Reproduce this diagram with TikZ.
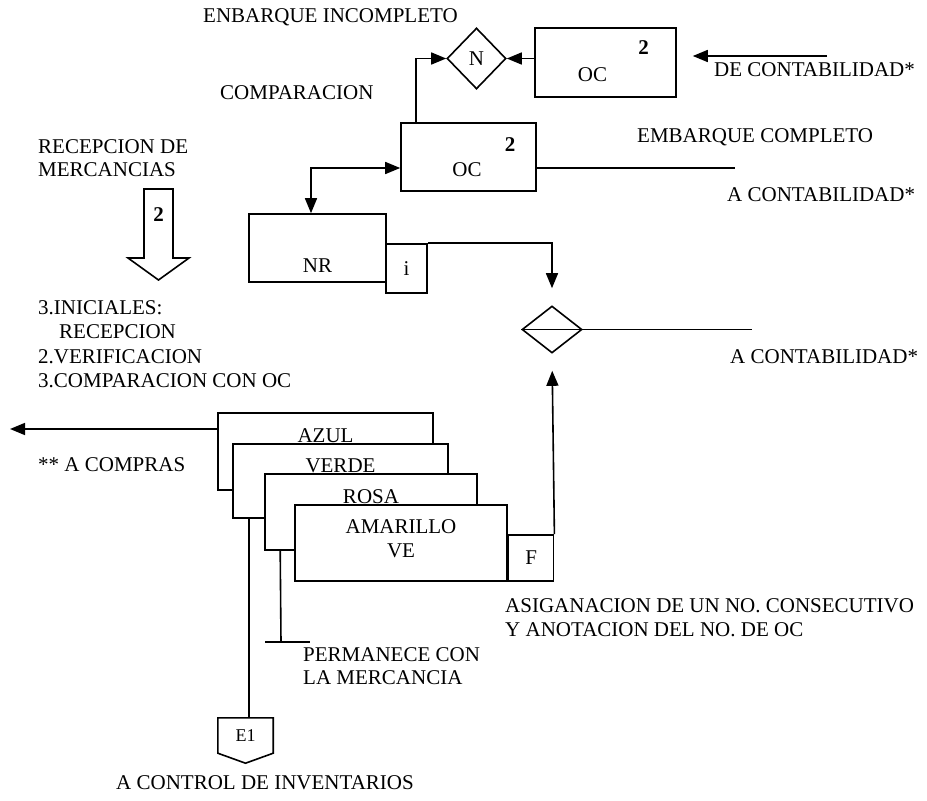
\documentclass[tikz,border=0pt]{standalone}
\usepackage{fontspec}
\setmainfont{Liberation Serif}
\usetikzlibrary{positioning}
\usetikzlibrary{shapes.geometric}
\usetikzlibrary{arrows.meta}

\begin{document}
\begin{tikzpicture}[
        x=1pt, y=-1pt,
        every node/.style={font=\fontsize{21}{24.5}\selectfont},
        box/.style={rectangle, draw=black, line width=1.6pt, fill=white, inner sep=0pt},
        rombo/.style={diamond, draw=black, line width=1.6pt, inner sep=0pt},
        txt/.style={anchor=west, inner sep=0pt, align=left},
        line/.style={line width=1.6pt},
        arrow/.style={-{Triangle[length=15pt,width=12pt]}, line width=1.6pt},
        dblarrow/.style={{Triangle[length=15pt,width=12pt]}-{Triangle[length=15pt,width=12pt]}, line width=1.6pt}
        ]
    \useasboundingbox (0,0) rectangle (927,801);

    % Nodes
    \node[rombo, minimum width=59, minimum height=61] (n) at (476.5,58.5) {N};
    \node[box, minimum width=141, minimum height=69] (oc2) at (605.5,62.5) {};
    \node (oc2txt) at ([xshift=-13pt,yshift=-12.5pt]oc2.center) {OC};
    \node (oc2num) at ([xshift=38pt,yshift=14.5pt]oc2.center) {\textbf{2}};

    \node[box, minimum width=135, minimum height=68] (oc) at (468.5,157) {};
    \node (octxt) at ([xshift=-1.5pt,yshift=-13pt]oc.center) {OC};
    \node (ocnum) at ([xshift=41.5pt,yshift=12pt]oc.center) {\textbf{2}};

    \node[box, minimum width=137, minimum height=68] (nr) at (317.5,248) {};
    \node (nrtxt) at ([yshift=-18pt]nr.center) {NR};
    \node[box, minimum width=41, minimum height=49] (i) at (406.5,268.5) {i};

    \node[rombo, minimum width=60, minimum height=47] (d2) at (552,329.5) {};

    % copias
    \node[box, minimum width=215, minimum height=77] (azul) at (325.5,451.5) {};
    \node (azultxt) at ([yshift=-23pt]azul.north) {AZUL};
    \node[box, minimum width=215, minimum height=74] (verde) at (340.5,481) {};
    \node (verdetxt) at ([yshift=-23pt]verde.north) {VERDE};
    \node[box, minimum width=212, minimum height=76] (rosa) at (371,512) {};
    \node (rosatxt) at ([yshift=-23pt]rosa.north) {ROSA};
    \node[box, minimum width=212, minimum height=76] (amarillo) at (401,543) {};
    \node[align=center] (amarillotxt) at ([yshift=-34.5pt]amarillo.north) {AMARILLO\\VE};
    \node[box, minimum width=45, minimum height=46, anchor=south west] (f) at (amarillo.south east) {F};

    \node[minimum width=55, minimum height=35, inner sep=0pt, font=\fontsize{18}{20}\selectfont] (e1) at (245.5,735.5) {E1};
    \draw[line] (e1.north west) -- (e1.north east) -- (e1.south east) -- ([yshift=-10pt]e1.south) -- (e1.south west) -- cycle;

    % flecha de recepcion
    \draw[line] (144,189) -- (173,189) -- (173,258) -- (189,258) -- (158.5,280) -- (128,258) -- (144,258) -- cycle;
    \node (recnum) at (158.5,215) {\textbf{2}};

    % Texts
    \node[txt] (incompleto) at (203,17) {ENBARQUE INCOMPLETO};
    \node[txt] (comparacion) at (220,93) {COMPARACION};
    \node[txt] (recepcion) at (38,158.5) {RECEPCION DE\\[-1.5pt]MERCANCIAS};
    \node[txt] (pasos) at (38,344) {3.INICIALES:\\\hspace*{21pt}RECEPCION\\2.VERIFICACION\\3.COMPARACION CON OC};
    \node[txt] (compras) at (38,465) {** A COMPRAS};
    \node[txt] (decontab) at (714,70) {DE CONTABILIDAD*};
    \node[txt] (completo) at (637,137) {EMBARQUE COMPLETO};
    \node[txt] (acontab1) at (727,195) {A CONTABILIDAD*};
    \node[txt] (acontab2) at (730,357) {A CONTABILIDAD*};
    \node[txt] (asignacion) at (505,617.5) {ASIGANACION DE UN NO. CONSECUTIVO\\Y ANOTACION DEL NO. DE OC};
    \node[txt] (permanece) at (303,666.5) {PERMANECE CON\\[-1.5pt]LA MERCANCIA};
    \node[inner sep=0pt] (inventarios) at (265,783) {A CONTROL DE INVENTARIOS};

    \coordinate (decont) at (827,56);
    \coordinate (acont1) at (735,168);
    \coordinate (acont2) at (752,329.5);
    \coordinate (acompras) at (10,429);
    \coordinate (perm) at (281,642);
    \coordinate (vline) at ([xshift=17pt]verde.south west);

    % Arrows
    \draw[arrow] ([xshift=16pt]oc.north west) |- (n.west);
    \draw[arrow] (oc2.west |- n.west) -- (n.east);
    \draw[arrow, shorten >=16pt] (decont) -- (decont -| oc2.east);
    \draw[line] (oc.east |- acont1) -- (acont1);
    \draw[dblarrow] ([xshift=-6.5pt]nr.north) |- (oc.west |- acont1);
    \draw[arrow, shorten >=17pt] (i.north east) -| (d2.north);
    \draw[arrow, shorten >=17pt] (f.north east) -- (d2.south);
    \draw[line] (d2.west) -- (d2.east);
    \draw[line] (d2.east) -- (acont2);
    \draw[arrow] (azul.west |- acompras) -- (acompras);
    \draw[line] (vline) -- (vline |- e1.north);
    \draw[line] ([xshift=16pt]rosa.south west) -- (perm);
    \draw[line] ([xshift=-16pt]perm) -- ([xshift=29pt]perm);

\end{tikzpicture}
\end{document}
